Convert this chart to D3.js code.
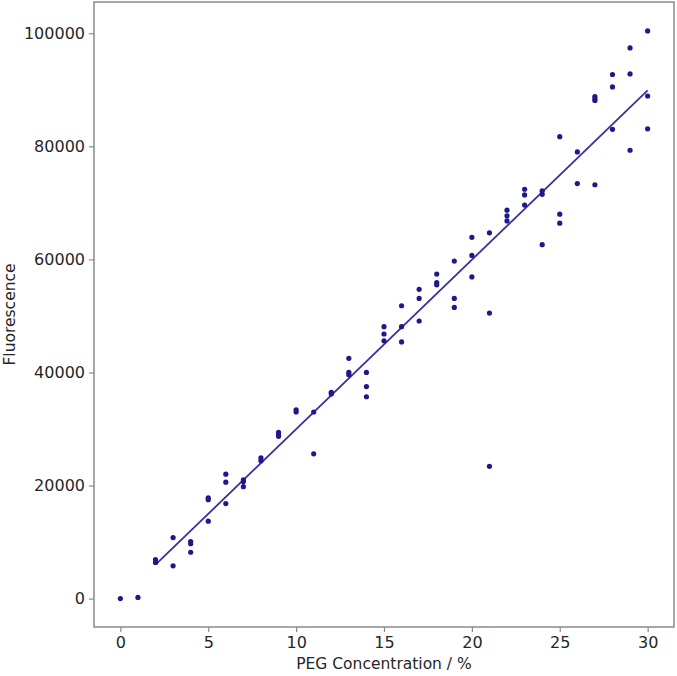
<!DOCTYPE html>
<html><head><meta charset="utf-8">
<script src="https://cdn.jsdelivr.net/npm/d3@7"></script>
<style>
html,body{margin:0;padding:0;background:#fff;}
svg{display:block;font-family:"DejaVu Sans",sans-serif;}
</style></head>
<body><svg id="c" width="677" height="676"></svg>
<script>
const pegConc = [0,1,2,2,3,3,4,4,4,5,5,5,6,6,6,7,7,7,8,8,9,9,9,10,10,11,11,12,12,13,13,13,14,14,14,15,15,15,16,16,16,17,17,17,18,18,18,19,19,19,20,20,20,21,21,21,22,22,22,23,23,23,24,24,24,25,25,25,26,26,27,27,27,27,28,28,28,29,29,29,30,30,30];
const fluorescence = [0,200,6900,6400,10800,5800,10100,9700,8200,17800,17500,13700,22000,20600,16800,21000,20700,19800,24900,24400,29400,29000,28700,33400,33000,33000,25600,36500,36200,42500,40000,39600,40000,37500,35700,48100,46800,45600,51800,48100,45400,54700,53100,49100,57400,55900,55500,59700,53100,51500,63900,60700,56900,64700,50500,23400,68700,67700,66800,72400,71400,69600,72100,71500,62600,81700,68000,66400,79000,73400,88800,88400,88100,73200,92700,90500,83000,97400,92800,79300,100400,88900,83100];
const fitX = [2, 30];
const fitY = [6000, 89900];
const xTicks = [0,5,10,15,20,25,30];
const yTicks = [0,20000,40000,60000,80000,100000];
const xLabel = "PEG Concentration / %";
const yLabel = "Fluorescence";

const svg = d3.select("#c");
const L=94, R=674, T=2, B=627;
const x = d3.scaleLinear().domain([-1.5,31.5]).range([L,R]);
const y = d3.scaleLinear().domain([-5025,105525]).range([B,T]);

const axisCol = "#8a8a8a", textCol = "#262626";

// fit line
svg.append("line")
  .attr("x1", x(fitX[0])).attr("y1", y(fitY[0]))
  .attr("x2", x(fitX[1])).attr("y2", y(fitY[1]))
  .attr("stroke", "#3d2f9e").attr("stroke-width", 1.8);

// points
svg.append("g").selectAll("circle").data(pegConc.map((p,i)=>[p,fluorescence[i]]))
  .join("circle")
  .attr("cx", d=>x(d[0])).attr("cy", d=>y(d[1])).attr("r", 2.6)
  .attr("fill", "#1e188a");

// frame
svg.append("rect").attr("x",L).attr("y",T).attr("width",R-L).attr("height",B-T)
  .attr("fill","none").attr("stroke",axisCol).attr("stroke-width",1.5);

const xa = svg.append("g").attr("transform",`translate(0,${B})`)
  .call(d3.axisBottom(x).tickValues(xTicks).tickSize(5).tickPadding(5).tickFormat(d3.format("d")));
const ya = svg.append("g").attr("transform",`translate(${L},0)`)
  .call(d3.axisLeft(y).tickValues(yTicks).tickSize(5).tickPadding(4).tickFormat(d3.format("d")));
[xa,ya].forEach(a=>{
  a.select(".domain").remove();
  a.selectAll(".tick line").attr("stroke",axisCol).attr("stroke-width",1.2);
  a.selectAll(".tick text").attr("fill",textCol).style("font-size","16px").style("font-family","DejaVu Sans, sans-serif");
});

svg.append("text").attr("x",(L+R)/2).attr("y",669).attr("text-anchor","middle")
  .attr("fill",textCol).style("font-size","15.5px").text(xLabel);
svg.append("text").attr("transform",`translate(15,${(T+B)/2}) rotate(-90)`).attr("text-anchor","middle")
  .attr("fill",textCol).style("font-size","15.5px").text(yLabel);
</script></body></html>
